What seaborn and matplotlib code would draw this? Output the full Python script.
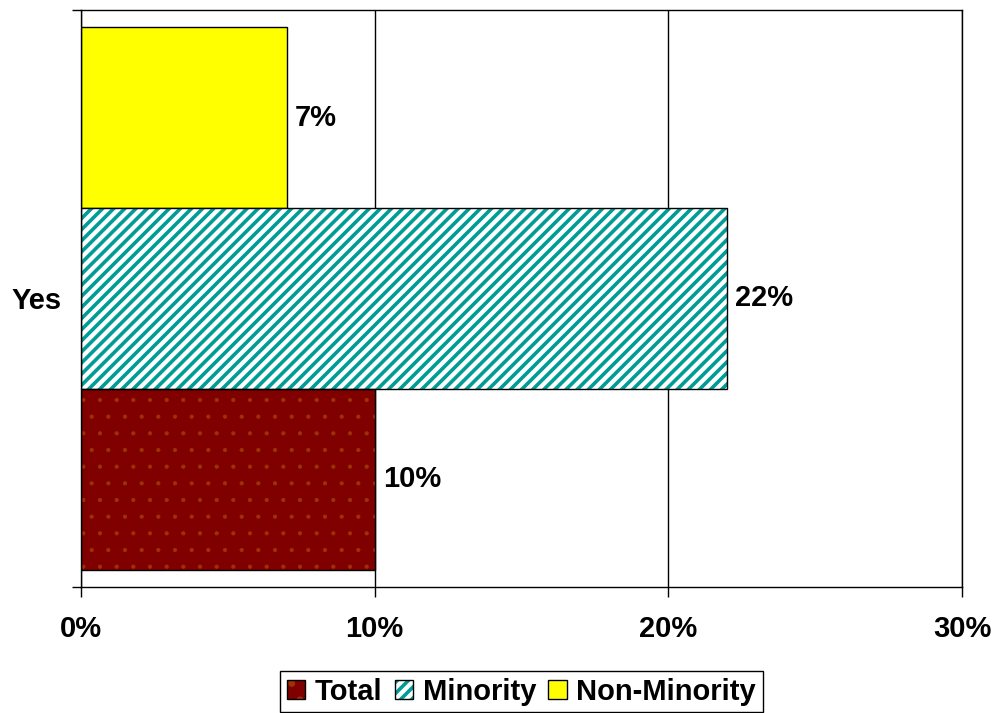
import matplotlib
matplotlib.use("Agg")
import matplotlib.pyplot as plt
from matplotlib.patches import Rectangle, Patch
from matplotlib.legend_handler import HandlerTuple
from matplotlib.ticker import FixedLocator, FuncFormatter
import pandas as pd
import seaborn as sns

# Share of respondents answering "Yes", by group (percent)
answers = ["Yes"]
groups = ["Total", "Minority", "Non-Minority"]
values = [10, 22, 7]
x_ticks = [0, 10, 20, 30]

face_colors = {"Total": "#800000", "Minority": "#FFFFFF", "Non-Minority": "#FFFF00"}
hatch_styles = {"Total": ".", "Minority": "///", "Non-Minority": None}
hatch_colors = {"Total": "#9C3206", "Minority": "#009C96", "Non-Minority": "black"}
hatch_widths = {"Total": 0.6, "Minority": 2.6, "Non-Minority": 1.0}

sns.set_theme(style="white")
plt.rcParams["font.family"] = ["Liberation Sans", "DejaVu Sans"]
plt.rcParams["font.weight"] = "bold"
plt.rcParams["hatch.linewidth"] = 2.6
for key in ("text.color", "axes.labelcolor", "xtick.color", "ytick.color"):
    plt.rcParams[key] = "black"

FS = 21

df = pd.DataFrame({
    "answer": answers * len(groups),
    "group": groups,
    "pct": values,
})

fig = plt.figure(figsize=(9.98, 7.13), dpi=100)
ax = fig.add_axes([81 / 998, 1 - 587 / 713, (962 - 81) / 998, (587 - 10) / 713])

# draw order puts Non-Minority on top and Total at the bottom
draw_order = ["Non-Minority", "Minority", "Total"]
sns.barplot(data=df, y="answer", x="pct", hue="group", hue_order=draw_order,
            orient="h", width=0.94, dodge=True, palette=face_colors,
            edgecolor="black", linewidth=1, legend=False, ax=ax, zorder=2)


def style_fill(patch, level):
    patch.set_facecolor(face_colors[level])
    if hatch_styles[level]:
        patch.set_hatch(hatch_styles[level])
        patch.set_edgecolor(hatch_colors[level])
        patch.set_linewidth(0)
        if hasattr(patch, "set_hatch_linewidth"):
            patch.set_hatch_linewidth(hatch_widths[level])


for level, container in zip(draw_order, ax.containers):
    for bar in container:
        style_fill(bar, level)
        if hatch_styles[level]:
            # crisp black outline on top of the hatched fill
            ax.add_patch(Rectangle((bar.get_x(), bar.get_y()), bar.get_width(),
                                   bar.get_height(), fill=False, edgecolor="black",
                                   linewidth=1, zorder=3))
    ax.bar_label(container, labels=[f"{v:.0f}%" for v in container.datavalues],
                 padding=6, fontsize=FS, fontweight="bold", color="black")

ax.set_xlim(0, 30)
ax.set_ylim(0.5, -0.5)
ax.xaxis.set_major_locator(FixedLocator(x_ticks))
ax.xaxis.set_major_formatter(FuncFormatter(lambda v, _: f"{v:.0f}%"))
ax.grid(axis="x", color="black", linewidth=1, zorder=0)
ax.grid(axis="y", visible=False)
ax.set_axisbelow(True)

ax.set_xlabel("")
ax.set_ylabel("")
ax.tick_params(axis="x", direction="out", length=7, width=1, color="black",
               labelsize=FS, pad=13, bottom=True, labelcolor="black")
ax.tick_params(axis="y", which="major", length=0, labelsize=FS, pad=14, left=True,
               labelcolor="black")
ax.yaxis.set_minor_locator(FixedLocator([-0.5, 0.5]))
ax.tick_params(axis="y", which="minor", direction="out", length=6.5, width=1,
               color="black", left=True)
for lab in ax.get_xticklabels() + ax.get_yticklabels():
    lab.set_fontweight("bold")
for spine in ax.spines.values():
    spine.set_visible(True)
    spine.set_color("black")
    spine.set_linewidth(1)

# legend in Total, Minority, Non-Minority order
handles = []
for g in groups:
    fill = Patch()
    style_fill(fill, g)
    outline = Patch(facecolor="none", edgecolor="black", linewidth=1)
    handles.append((fill, outline))
leg = fig.legend(handles, groups, handler_map={tuple: HandlerTuple(ndivide=1)},
                 loc="center", bbox_to_anchor=(521.5 / 998, 1 - 691.5 / 713),
                 ncol=3, frameon=True, fancybox=False, shadow=False,
                 prop={"size": FS, "weight": "bold"}, handlelength=0.62,
                 handleheight=0.62, handletextpad=0.34, columnspacing=0.42,
                 borderpad=0.22, borderaxespad=0)
for t in leg.get_texts():
    t.set_color("black")
leg.get_frame().set_edgecolor("black")
leg.get_frame().set_linewidth(1)
leg.get_frame().set_alpha(1)

fig.savefig("out.png", dpi=100)
